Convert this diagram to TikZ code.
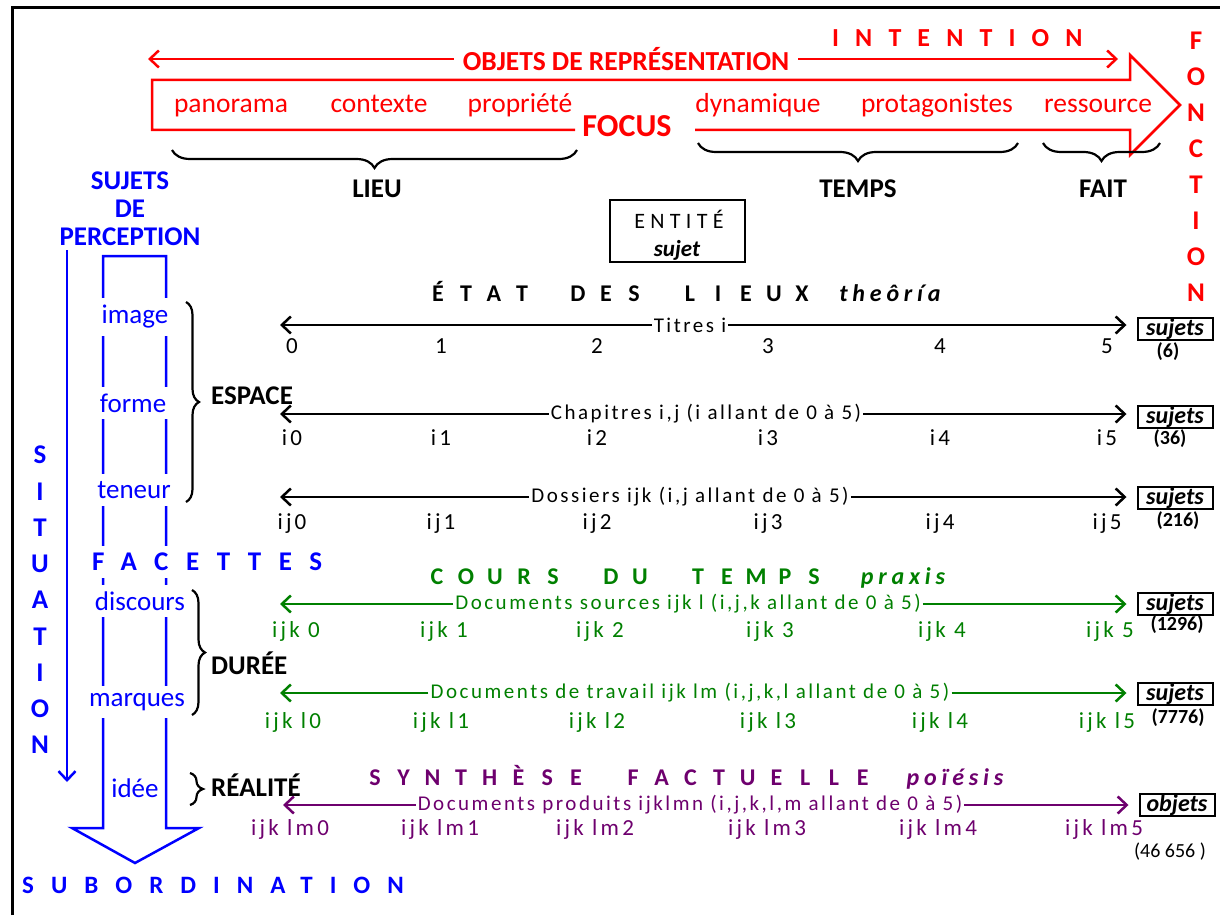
\documentclass[tikz,border=0pt]{standalone}
\usepackage{fontspec}
\setmainfont{Carlito}
\newfontfamily\manuscrit[LetterSpace=12]{Carlito}
\newfontfamily\chiffres[LetterSpace=14]{Carlito}
\usetikzlibrary{arrows,arrows.meta,calc,positioning,decorations.pathreplacing}

\definecolor{rougeI}{RGB}{255,0,0}
\definecolor{bleuS}{RGB}{0,0,255}
\definecolor{vertP}{RGB}{0,128,0}
\definecolor{violetP}{RGB}{110,0,110}

\tikzset{
  fleche/.style={line width=2.5pt, -{Straight Barb[length=9pt,width=17pt]}},
  accH/.style={decorate, decoration={brace, mirror, amplitude=18pt}, line width=2.2pt},
  accV/.style={decorate, decoration={brace, amplitude=13pt}, line width=2.2pt},
  mot/.style={inner sep=1pt, anchor=base, font=\fontsize{27.5}{30}\selectfont},
  gras/.style={inner sep=1pt, font=\fontsize{27}{28}\selectfont\bfseries},
  lettre/.style={inner sep=0pt, anchor=base, font=\fontsize{24}{26}\selectfont\bfseries},
  grec/.style={inner sep=0pt, anchor=base, font=\fontsize{24}{26}\selectfont\bfseries\itshape\addfontfeature{LetterSpace=20}},
  legende/.style={fill=white, inner xsep=2pt, inner ysep=1pt, font=\manuscrit\fontsize{21}{24}\selectfont},
  graduation/.style={inner sep=0pt, anchor=base, font=\chiffres\fontsize{23}{24}\selectfont},
  boite/.style={draw, line width=2pt, minimum width=75pt, minimum height=22pt, inner sep=1pt,
    font=\fontsize{24}{24}\selectfont\bfseries\itshape},
  nombre/.style={inner sep=0pt, font=\fontsize{20}{22}\selectfont\bfseries},
  facette/.style={fill=white, inner xsep=4pt, inner ysep=7pt, text=bleuS, font=\fontsize{27}{28}\selectfont}
}

\begin{document}
\begin{tikzpicture}[x=1pt, y=-1pt]
\useasboundingbox (0,0) rectangle (1220,915);
\draw[line width=3pt] (12,915) -- (12,8) -- (1220,8);

% intention
\node[text=rougeI, inner xsep=9pt, font=\fontsize{27.5}{30}\selectfont\bfseries] (objets) at (626,59) {OBJETS DE REPRÉSENTATION};
\coordinate (objG) at (148,59);
\coordinate (objD) at (1118,59);
\draw[rougeI, fleche] (objets.west) -- (objG);
\draw[rougeI, fleche] (objets.east) -- (objD);
\node[text=rougeI, anchor=west, inner sep=0pt, font=\fontsize{26}{28}\selectfont\bfseries] (intention) at (832,38) {\addfontfeature{LetterSpace=62}INTENTION};

\draw[rougeI, line width=2.5pt] (575,130) -- (152,130) -- (152,80) -- (1130,80) -- (1130,55)
  -- (1180,105) -- (1130,155) -- (1130,130) -- (695,130);
\node[mot, text=rougeI] (panorama) at (231,113) {panorama};
\node[mot, text=rougeI] (contexte) at (379,113) {contexte};
\node[mot, text=rougeI] (propriete) at (520,113) {propriété};
\node[mot, text=rougeI] (dynamique) at (758,113) {dynamique};
\node[mot, text=rougeI] (protagonistes) at (937,113) {protagonistes};
\node[mot, text=rougeI] (ressource) at (1098,113) {ressource};
\node[text=rougeI, inner sep=0pt, font=\fontsize{32}{34}\selectfont\bfseries] (focus) at (627,126) {FOCUS};

\node[text=rougeI, align=center, inner sep=0pt, font=\fontsize{27}{36}\selectfont\bfseries] (fonction) at (1196,167) {F\\O\\N\\C\\T\\I\\O\\N};

% accolades du haut
\draw[accH] (172,150) -- (577,150);
\node[gras] (lieu) at (377,189) {LIEU};
\draw[accH] (698,143) -- (1018,143);
\node[gras] (temps) at (858,189) {TEMPS};
\draw[accH] (1043,143) -- (1160,143);
\node[gras] (fait) at (1103,189) {FAIT};

\node[draw, line width=2pt, minimum width=135pt, minimum height=62pt] (entite) at (677,231) {};
\node[inner sep=0pt, font=\fontsize{22}{22}\selectfont\addfontfeature{LetterSpace=24}] (entiteA) at ($(entite.center)+(2,-12)$) {ENTITÉ};
\node[inner sep=0pt, anchor=base, font=\fontsize{23}{22}\selectfont\bfseries\itshape] (entiteB) at ($(entite.center)+(0,25)$) {sujet};

% situation
\node[gras, text=bleuS, align=center] (sujets) at (130,209) {SUJETS\\DE\\PERCEPTION};
\coordinate (sit0) at (67,250);
\coordinate (sit1) at (67,782);
\draw[bleuS, fleche] (sit0) -- (sit1);
\node[text=bleuS, align=center, inner sep=0pt, font=\fontsize{27}{36.25}\selectfont\bfseries] (situation) at (40,600) {S\\I\\T\\U\\A\\T\\I\\O\\N};

\draw[bleuS, line width=2.5pt] (103,256) -- (166,256) -- (166,828) -- (199,828) -- (135,863) -- (72,828) -- (103,828) -- cycle;
\node[facette] (image) at (135,317) {image};
\node[facette] (forme) at (133,403) {forme};
\node[facette] (teneur) at (134,490) {teneur};
\node[facette, anchor=west, inner xsep=0pt, font=\fontsize{27}{28}\selectfont\bfseries] (facettes) at (92,562) {\addfontfeature{LetterSpace=65}FACETTES};
\node[facette] (discours) at (140,601) {discours};
\node[facette] (marques) at (137,702) {marques};
\node[facette, inner xsep=0pt] (idee) at (135,788) {idée};
\node[text=bleuS, anchor=west, inner sep=0pt, font=\fontsize{25}{28}\selectfont\bfseries] (subordination) at (22,885) {\addfontfeature{LetterSpace=68}SUBORDINATION};

% accolades de gauche
\draw[accV] (186,302) -- (186,502);
\node[gras, anchor=west] (espace) at (210,396) {ESPACE};
\draw[accV] (192,590) -- (192,715);
\node[gras, anchor=west] (duree) at (210,663) {DURÉE};
\draw[accV] (190,773) -- (190,805);
\node[gras, anchor=west] (realite) at (210,785) {RÉALITÉ};

% état des lieux
\foreach \l [count=\i from 0] in {É,T,A,T}
  \node[lettre] (etat-\i) at (438+28*\i,301) {\l};
\foreach \l [count=\i from 0] in {D,E,S}
  \node[lettre] (des-\i) at (578+28*\i,301) {\l};
\foreach \l [count=\i from 0] in {L,I,E,U,X}
  \node[lettre] (lieux-\i) at (690+28*\i,301) {\l};
\node[grec] (theoria) at (890,301) {theôría};
\node[legende] (l1) at (690,325) {Titres i};
\coordinate (g1) at (280,325);
\node[boite] (s1) at (1175,329) {sujets};
\draw[fleche] (l1.west) -- (g1);
\draw[fleche, shorten >=10pt] (l1.east) -- (l1.east -| s1.west);
\foreach \x [count=\i from 0] in {292,441,597,768,940,1107}
  \node[graduation] (r1-\i) at (\x,353) {\i};
\node[nombre] (n1) at (1168,352) {(6)};

\node[legende] (l2) at (706,414) {Chapitres i,j (i allant de 0 à 5)};
\coordinate (g2) at (280,414);
\node[boite] (s2) at (1175,417) {sujets};
\draw[fleche] (l2.west) -- (g2);
\draw[fleche, shorten >=10pt] (l2.east) -- (l2.east -| s2.west);
\foreach \x [count=\i from 0] in {292,441,597,768,940,1107}
  \node[graduation] (r2-\i) at (\x,445) {i\i};
\node[nombre] (n2) at (1170,439) {(36)};

\node[legende] (l3) at (690,497) {Dossiers ijk (i,j allant de 0 à 5)};
\coordinate (g3) at (280,497);
\node[boite] (s3) at (1175,498) {sujets};
\draw[fleche] (l3.west) -- (g3);
\draw[fleche, shorten >=10pt] (l3.east) -- (l3.east -| s3.west);
\foreach \x [count=\i from 0] in {292,441,597,768,940,1107}
  \node[graduation] (r3-\i) at (\x,529) {ij\i};
\node[nombre] (n3) at (1178,521) {(216)};

% cours du temps
\foreach \l [count=\i from 0] in {C,O,U,R,S}
  \node[lettre, text=vertP] (cours-\i) at (437+29*\i,584) {\l};
\foreach \l [count=\i from 0] in {D,U}
  \node[lettre, text=vertP] (du-\i) at (611+29*\i,584) {\l};
\foreach \l [count=\i from 0] in {T,E,M,P,S}
  \node[lettre, text=vertP] (tps-\i) at (698+29*\i,584) {\l};
\node[grec, text=vertP] (praxis) at (903,584) {praxis};
\node[legende, text=vertP] (l4) at (688,604) {Documents sources ijk l (i,j,k allant de 0 à 5)};
\coordinate (g4) at (280,604);
\node[boite] (s4) at (1175,604) {sujets};
\draw[vertP, fleche] (l4.west) -- (g4);
\draw[vertP, fleche, shorten >=10pt] (l4.east) -- (l4.east -| s4.west);
\foreach \x [count=\i from 0] in {296,444,600,770,942,1110}
  \node[graduation, text=vertP] (r4-\i) at (\x,637) {ijk \i};
\node[nombre] (n4) at (1177,625) {(1296)};

\node[legende, text=vertP] (l5) at (690,693) {Documents de travail ijk lm (i,j,k,l allant de 0 à 5)};
\coordinate (g5) at (280,693);
\node[boite] (s5) at (1175,694) {sujets};
\draw[vertP, fleche] (l5.west) -- (g5);
\draw[vertP, fleche, shorten >=10pt] (l5.east) -- (l5.east -| s5.west);
\foreach \x [count=\i from 0] in {293,441,597,768,940,1107}
  \node[graduation, text=vertP] (r5-\i) at (\x,728) {ijk l\i};
\node[nombre] (n5) at (1178,718) {(7776)};

% synthèse factuelle
\foreach \l [count=\i from 0] in {S,Y,N,T,H,È,S,E}
  \node[lettre, text=violetP] (synth-\i) at (375+28.7*\i,785) {\l};
\foreach \l [count=\i from 0] in {F,A,C,T,U,E,L,L,E}
  \node[lettre, text=violetP] (fact-\i) at (633+28.7*\i,785) {\l};
\node[grec, text=violetP] (poiesis) at (955,785) {poïésis};
\node[legende, text=violetP] (l6) at (690,805) {Documents produits ijklmn (i,j,k,l,m allant de 0 à 5)};
\coordinate (g6) at (283,805);
\node[boite] (s6) at (1177,805) {objets};
\draw[violetP, fleche] (l6.west) -- (g6);
\draw[violetP, fleche, shorten >=10pt] (l6.east) -- (l6.east -| s6.west);
\foreach \x [count=\i from 0] in {290,440,595,767,938,1104}
  \node[graduation, text=violetP] (r6-\i) at (\x,835) {ijk lm\i};
\node[nombre, font=\fontsize{20}{22}\selectfont] (n6) at (1170,852) {(46 656 )};
\end{tikzpicture}
\end{document}
